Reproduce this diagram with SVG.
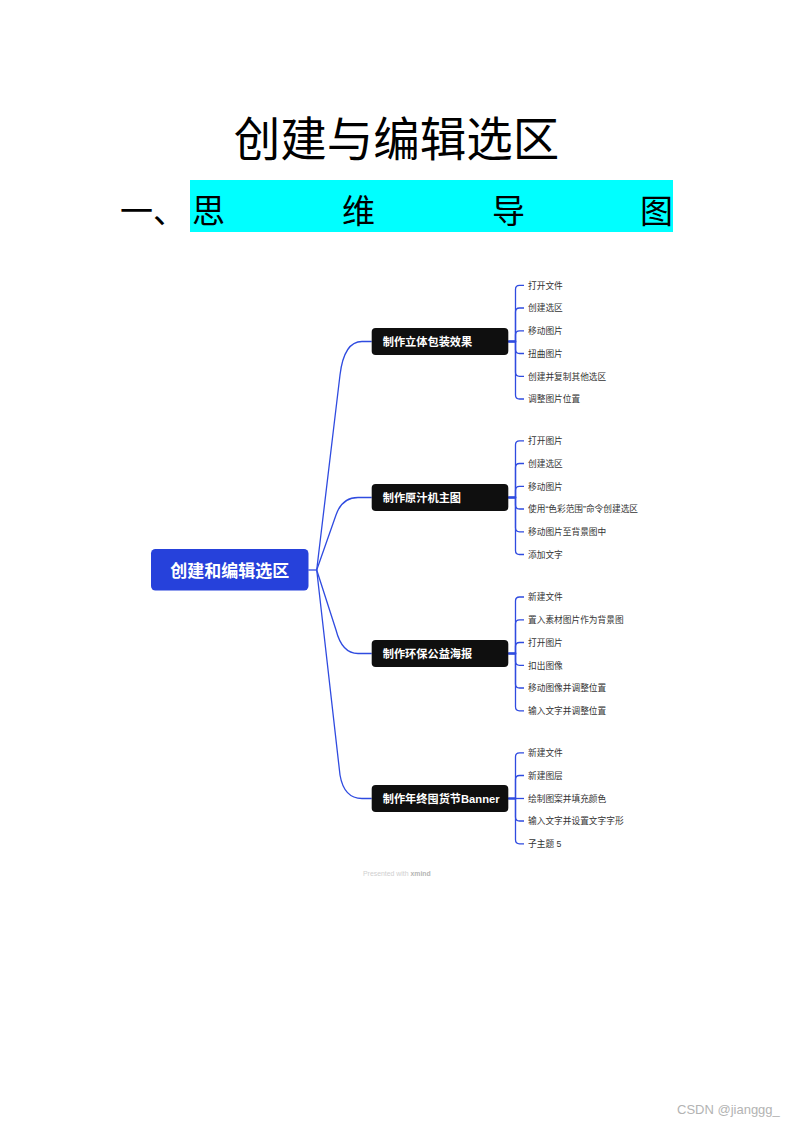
<svg xmlns="http://www.w3.org/2000/svg" width="793" height="1122" viewBox="0 0 793 1122">
<style>
.title{font-family:"Noto Sans CJK SC","Noto Sans CJK JP",sans-serif;font-size:46.5px;fill:#000}
.h1{font-family:"Noto Sans CJK SC","Noto Sans CJK JP",sans-serif;font-size:33px;fill:#000}
.root{font-family:"Liberation Sans","Noto Sans CJK SC",sans-serif;font-size:17px;font-weight:bold;fill:#fff}
.main{font-family:"Liberation Sans","Noto Sans CJK SC",sans-serif;font-size:11.2px;font-weight:bold;fill:#fff}
.leaf{font-family:"Liberation Sans","Noto Sans CJK SC",sans-serif;font-size:8.7px;fill:#333}
.line{fill:none;stroke:#2F4BE0;stroke-width:1.3}
.box{fill:#0f0f0f}
</style>
<rect x="0" y="0" width="793" height="1122" fill="#fff"/>
<g id="heading">
<text class="title" x="396.5" y="156" text-anchor="middle">创建与编辑选区</text>
<rect x="190" y="180" width="483" height="52" fill="#00FFFF"/>
<text class="h1" x="120" y="222.5">一、</text>
<text class="h1" x="192" y="222.5">思</text>
<text class="h1" x="342" y="222.5">维</text>
<text class="h1" x="492" y="222.5">导</text>
<text class="h1" x="640" y="222.5">图</text>
</g>
<g id="connectors">
<path class="line" d="M308.3 570H316.7"/>
<path class="line" d="M316.7 570L340 375Q344 341.5 362 341.5H371.7"/>
<path class="line" d="M316.7 570L336 515Q342 497.5 358 497.5H371.7"/>
<path class="line" d="M316.7 570L336 630Q342 653.5 358 653.5H371.7"/>
<path class="line" d="M316.7 570L340 775Q344 798.5 362 798.5H371.7"/>
<path class="line" d="M508.3 341.5H515.5V289.3Q515.5 285.3 519.5 285.3H524"/>
<path class="line" d="M508.3 341.5H515.5V312Q515.5 308 519.5 308H524"/>
<path class="line" d="M508.3 341.5H515.5V334.8Q515.5 330.8 519.5 330.8H524"/>
<path class="line" d="M508.3 341.5H515.5V349.5Q515.5 353.5 519.5 353.5H524"/>
<path class="line" d="M508.3 341.5H515.5V372.3Q515.5 376.3 519.5 376.3H524"/>
<path class="line" d="M508.3 341.5H515.5V395Q515.5 399 519.5 399H524"/>
<path class="line" d="M508.3 497.5H515.5V444.8Q515.5 440.8 519.5 440.8H524"/>
<path class="line" d="M508.3 497.5H515.5V467.5Q515.5 463.5 519.5 463.5H524"/>
<path class="line" d="M508.3 497.5H515.5V490.3Q515.5 486.3 519.5 486.3H524"/>
<path class="line" d="M508.3 497.5H515.5V505Q515.5 509 519.5 509H524"/>
<path class="line" d="M508.3 497.5H515.5V527.8Q515.5 531.8 519.5 531.8H524"/>
<path class="line" d="M508.3 497.5H515.5V550.5Q515.5 554.5 519.5 554.5H524"/>
<path class="line" d="M508.3 653.5H515.5V601Q515.5 597 519.5 597H524"/>
<path class="line" d="M508.3 653.5H515.5V623.8Q515.5 619.8 519.5 619.8H524"/>
<path class="line" d="M508.3 653.5H515.5V646.5Q515.5 642.5 519.5 642.5H524"/>
<path class="line" d="M508.3 653.5H515.5V661.3Q515.5 665.3 519.5 665.3H524"/>
<path class="line" d="M508.3 653.5H515.5V684Q515.5 688 519.5 688H524"/>
<path class="line" d="M508.3 653.5H515.5V706.8Q515.5 710.8 519.5 710.8H524"/>
<path class="line" d="M508.3 798.5H515.5V756.8Q515.5 752.8 519.5 752.8H524"/>
<path class="line" d="M508.3 798.5H515.5V779.5Q515.5 775.5 519.5 775.5H524"/>
<path class="line" d="M508.3 798.5H524"/>
<path class="line" d="M508.3 798.5H515.5V817Q515.5 821 519.5 821H524"/>
<path class="line" d="M508.3 798.5H515.5V839.8Q515.5 843.8 519.5 843.8H524"/>
</g>
<g id="root">
<rect x="151" y="549" width="157.5" height="41.5" rx="4.5" fill="#2641DB"/>
<text class="root" x="229.8" y="577.2" text-anchor="middle">创建和编辑选区</text>
</g>
<g id="b1">
<rect class="box" x="371.7" y="328" width="136.6" height="27" rx="4"/>
<text class="main" x="382.7" y="345.7">制作立体包装效果</text>
</g>
<g id="b2">
<rect class="box" x="371.7" y="484" width="136.6" height="27" rx="4"/>
<text class="main" x="382.7" y="501.7">制作原汁机主图</text>
</g>
<g id="b3">
<rect class="box" x="371.7" y="640" width="136.6" height="27" rx="4"/>
<text class="main" x="382.7" y="657.7">制作环保公益海报</text>
</g>
<g id="b4">
<rect class="box" x="371.7" y="785" width="136.6" height="27" rx="4"/>
<text class="main" x="382.7" y="802.7">制作年终囤货节Banner</text>
</g>
<g id="b1-leaves">
<text class="leaf" x="528" y="288.5">打开文件</text>
<text class="leaf" x="528" y="311.2">创建选区</text>
<text class="leaf" x="528" y="334">移动图片</text>
<text class="leaf" x="528" y="356.7">扭曲图片</text>
<text class="leaf" x="528" y="379.5">创建并复制其他选区</text>
<text class="leaf" x="528" y="402.2">调整图片位置</text>
</g>
<g id="b2-leaves">
<text class="leaf" x="528" y="444">打开图片</text>
<text class="leaf" x="528" y="466.7">创建选区</text>
<text class="leaf" x="528" y="489.5">移动图片</text>
<text class="leaf" x="528" y="512.2">使用“色彩范围”命令创建选区</text>
<text class="leaf" x="528" y="535">移动图片至背景图中</text>
<text class="leaf" x="528" y="557.7">添加文字</text>
</g>
<g id="b3-leaves">
<text class="leaf" x="528" y="600.2">新建文件</text>
<text class="leaf" x="528" y="623">置入素材图片作为背景图</text>
<text class="leaf" x="528" y="645.7">打开图片</text>
<text class="leaf" x="528" y="668.5">扣出图像</text>
<text class="leaf" x="528" y="691.2">移动图像并调整位置</text>
<text class="leaf" x="528" y="714">输入文字并调整位置</text>
</g>
<g id="b4-leaves">
<text class="leaf" x="528" y="756">新建文件</text>
<text class="leaf" x="528" y="778.7">新建图层</text>
<text class="leaf" x="528" y="801.5">绘制图案并填充颜色</text>
<text class="leaf" x="528" y="824.2">输入文字并设置文字字形</text>
<text class="leaf" x="528" y="847">子主题 5</text>
</g>
<g id="footer">
<text x="363" y="875.5" font-family="Liberation Sans, sans-serif" font-size="6.9" fill="#cfcfcf">Presented with <tspan font-weight="bold" fill="#b5b5b5">xmind</tspan></text>
<text x="677" y="1113.5" font-family="Liberation Sans, sans-serif" font-size="13" fill="#b3b3b3">CSDN @jianggg_</text>
</g>
</svg>
